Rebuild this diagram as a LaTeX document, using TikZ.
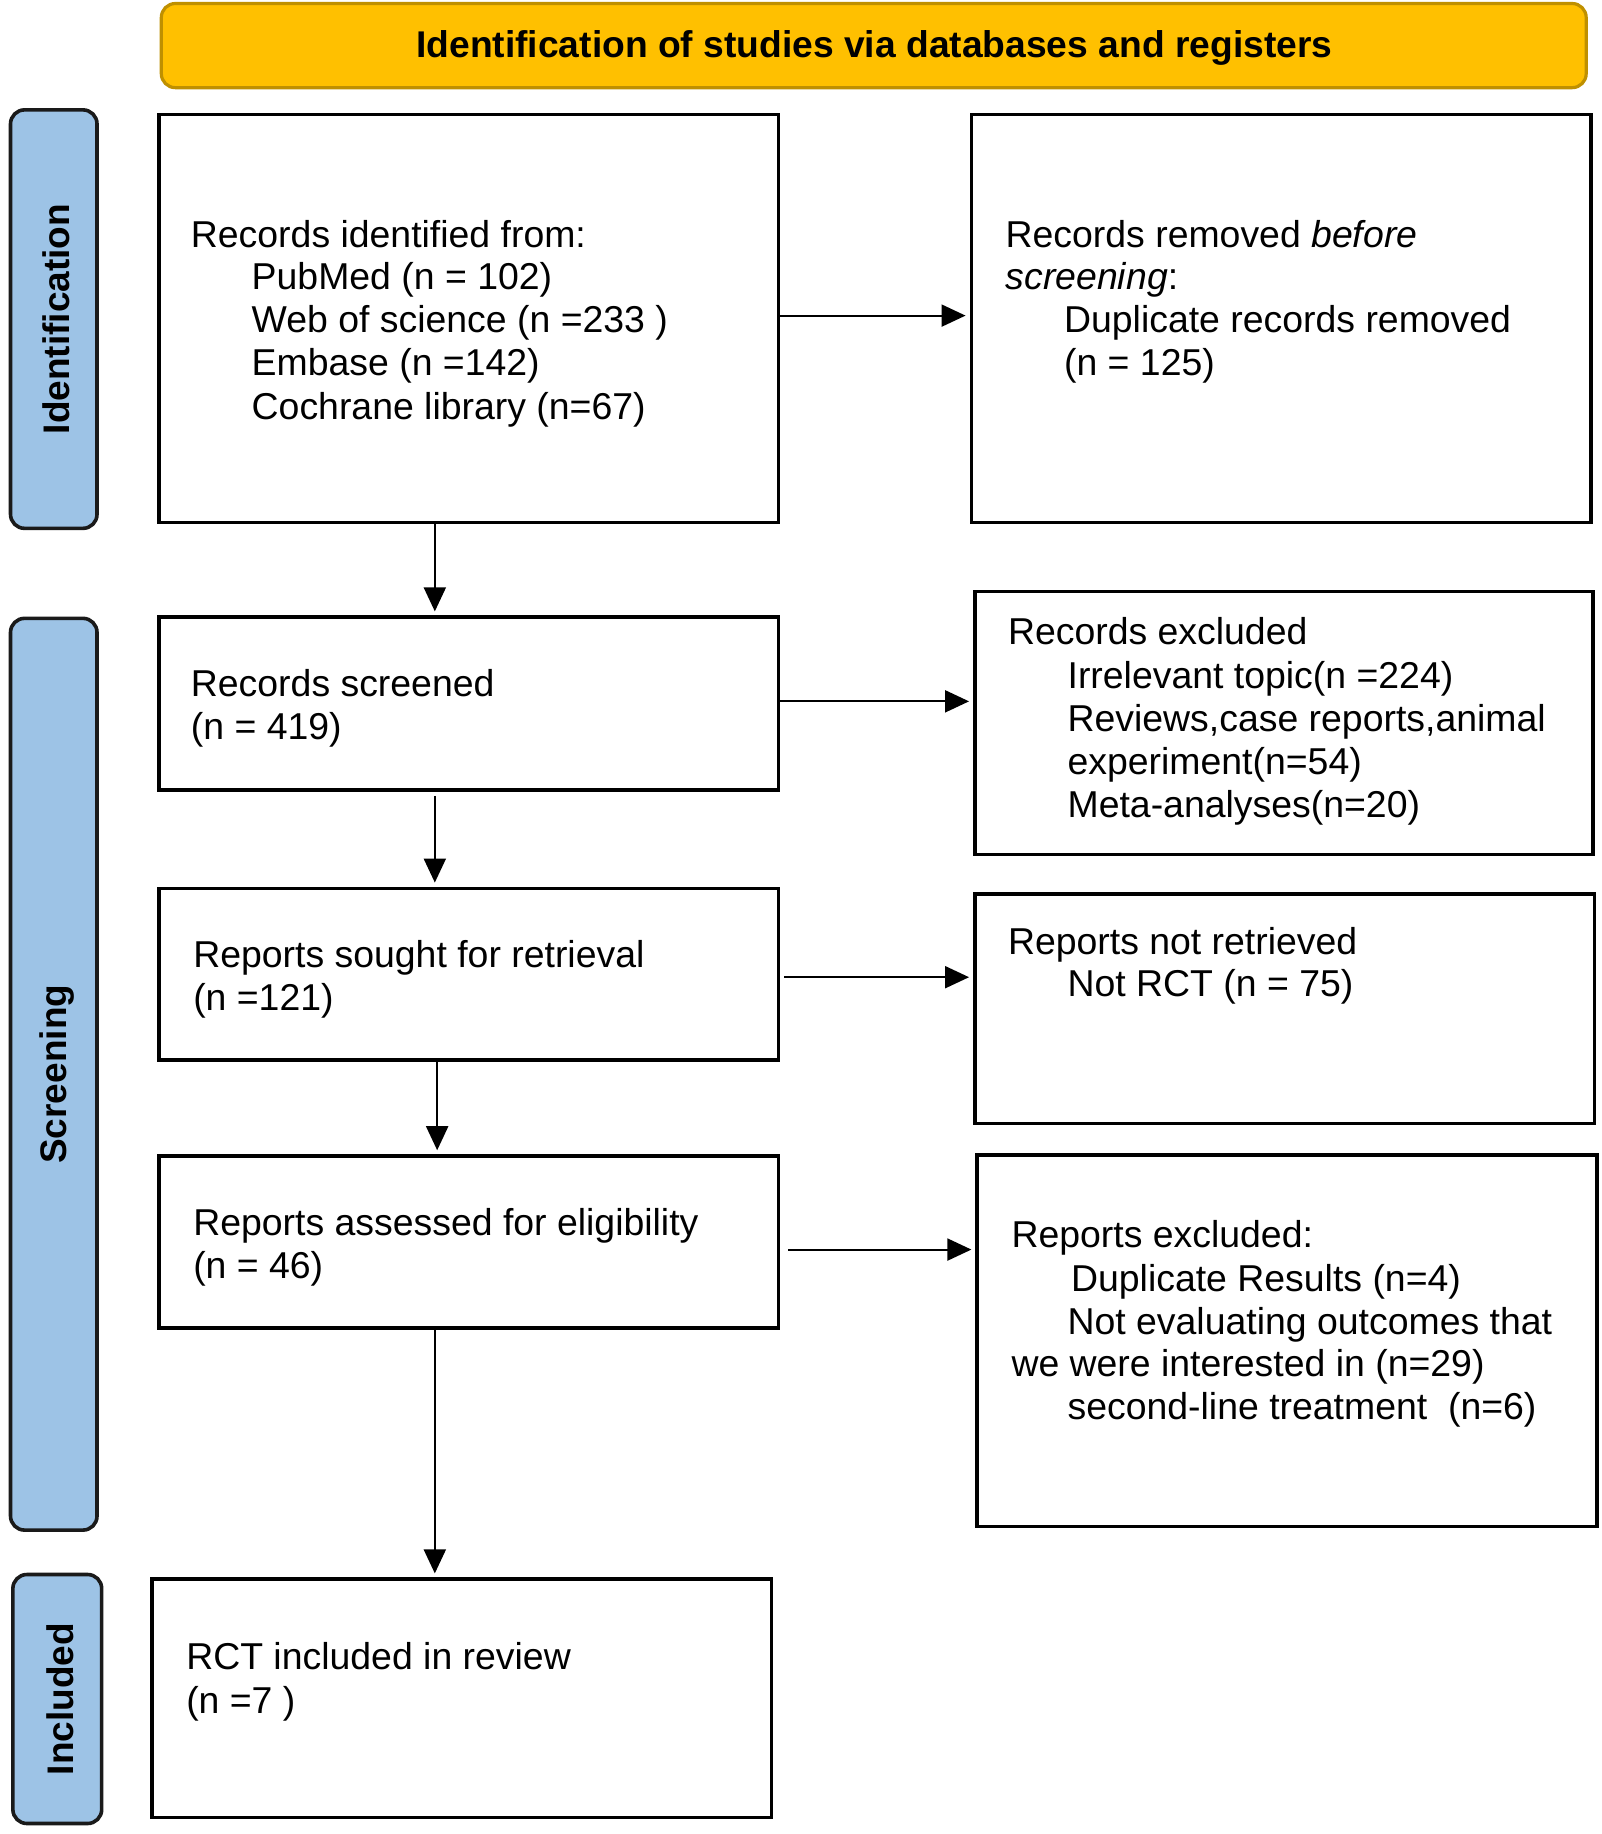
\documentclass[tikz,border=0pt]{standalone}
\usepackage{fontspec}
\setmainfont{Liberation Sans}
\usetikzlibrary{arrows.meta,fit}
\definecolor{bannerfill}{HTML}{FFC000}
\definecolor{bannerdraw}{HTML}{BF9000}
\definecolor{sidefill}{HTML}{9DC3E6}
\definecolor{sidedraw}{HTML}{1A1A1A}
\begin{document}
\begin{tikzpicture}[x=0.5843pt,y=-0.5843pt,
  box/.style={draw=black,line width=1.8pt,inner sep=0pt},
  side/.style={draw=sidedraw,fill=sidefill,line width=1.8pt,rounded corners=7pt,inner sep=0pt},
  banner/.style={draw=bannerdraw,fill=bannerfill,line width=1.6pt,rounded corners=7pt,inner sep=0pt},
  sidetxt/.style={rotate=90,font=\fontsize{18.5}{22}\selectfont\bfseries,inner sep=0pt},
  txt/.style={anchor=base west,inner sep=0pt,yshift=-6.8pt,font=\fontsize{18.7}{21.5}\selectfont},
  arr/.style={line width=1pt,-{Triangle[length=12pt,width=11pt]},shorten >=2pt}]
\useasboundingbox (0,0) rectangle (1370,1569);
% banner
\node[banner,fit={(138,3) (1357,75)}] (ban) {};
\node[font=\fontsize{18.6}{22}\selectfont\bfseries,inner sep=0pt] (bantxt) at (748,41) {Identification of studies via databases and registers};
% side labels
\node[side,fit={(9,94) (83,452)}] (s1) {};
\node[sidetxt] (s1t) at ([xshift=1.5pt]s1.center) {Identification};
\node[side,fit={(9,529) (83,1309)}] (s2) {};
\node[sidetxt] (s2t) at ([xshift=1.5pt]s2.center) {Screening};
\node[side,fit={(11,1347) (87,1560)}] (s3) {};
\node[sidetxt] (s3t) at ([xshift=1.5pt]s3.center) {Included};
% boxes
\node[box,fit={(136,98) (666,447)}] (b1) {};
\node[box,fit={(831,98) (1361,447)}] (b2) {};
\node[box,fit={(136,528) (666,676)}] (b3) {};
\node[box,fit={(834,506) (1363,731)}] (b4) {};
\node[box,fit={(136,760) (666,907)}] (b5) {};
\node[box,fit={(834,765) (1364,961)}] (b6) {};
\node[box,fit={(136,989) (666,1136)}] (b7) {};
\node[box,fit={(836,988) (1366,1306)}] (b8) {};
\node[box,fit={(130,1351) (660,1555)}] (b9) {};
% texts box 1
\node[txt] (t1a) at (163,200) {Records identified from:};
\node[txt] (t1b) at (215,236) {PubMed (n = 102)};
\node[txt] (t1c) at (215,273) {Web of science (n =233 )};
\node[txt] (t1d) at (215,310) {Embase (n =142)};
\node[txt] (t1e) at (215,347) {Cochrane library (n=67)};
% box 2
\node[txt] (t2a) at (860,200) {Records removed \textit{before}};
\node[txt] (t2b) at (860,236) {\textit{screening}:};
\node[txt] (t2c) at (910,273) {Duplicate records removed};
\node[txt] (t2d) at (910,310) {(n = 125)};
% box 3
\node[txt] (t3a) at (163,584) {Records screened};
\node[txt] (t3b) at (163,621) {(n = 419)};
% box 4
\node[txt] (t4a) at (862,540) {Records excluded};
\node[txt] (t4b) at (913,577) {Irrelevant topic(n =224)};
\node[txt] (t4c) at (913,614) {Reviews,case reports,animal};
\node[txt] (t4d) at (913,651) {experiment(n=54)};
\node[txt] (t4e) at (913,688) {Meta-analyses(n=20)};
% box 5
\node[txt] (t5a) at (165,816) {Reports sought for retrieval};
\node[txt] (t5b) at (165,853) {(n =121)};
% box 6
\node[txt] (t6a) at (862,805) {Reports not retrieved};
\node[txt] (t6b) at (913,841) {Not RCT (n = 75)};
% box 7
\node[txt] (t7a) at (165,1045) {Reports assessed for eligibility};
\node[txt] (t7b) at (165,1082) {(n = 46)};
% box 8
\node[txt] (t8a) at (865,1056) {Reports excluded:};
\node[txt] (t8b) at (916,1093) {Duplicate Results (n=4)};
\node[txt] (t8c) at (913,1130) {Not evaluating outcomes that};
\node[txt] (t8d) at (865,1166) {we were interested in (n=29)};
\node[txt] (t8e) at (913,1203) {second-line treatment\ \ (n=6)};
% box 9
\node[txt] (t9a) at (159,1417) {RCT included in review};
\node[txt] (t9b) at (159,1454) {(n =7 )};
% arrows
\coordinate (ax) at (372,0);
\coordinate (bx) at (374,0);
\coordinate (y1) at (0,270);
\coordinate (y3) at (0,600);
\coordinate (y5) at (0,836);
\coordinate (y7) at (0,1069);
\draw[arr] (b1.east |- y1) -- (b2.west |- y1);
\draw[arr] (b1.south -| ax) -- (b3.north -| ax);
\draw[arr] (b3.east |- y3) -- (b4.west |- y3);
\draw[arr] ([yshift=-2pt]b3.south -| ax) -- (b5.north -| ax);
\draw[arr] ([xshift=2pt]b5.east |- y5) -- (b6.west |- y5);
\draw[arr] (b5.south -| bx) -- (b7.north -| bx);
\draw[arr] ([xshift=4pt]b7.east |- y7) -- (b8.west |- y7);
\draw[arr] (b7.south -| ax) -- (b9.north -| ax);
\end{tikzpicture}
\end{document}
